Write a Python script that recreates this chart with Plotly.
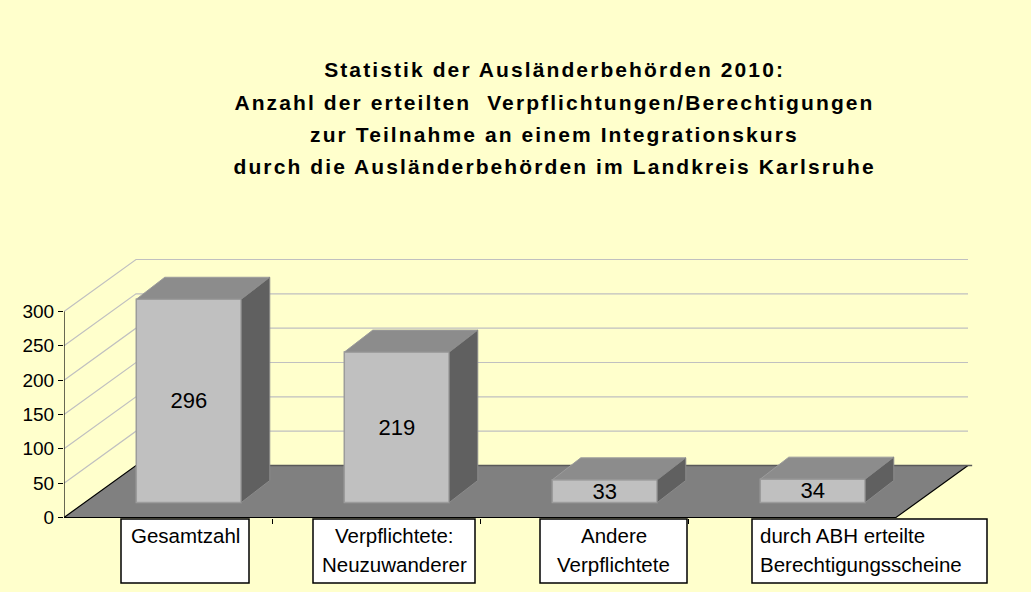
import plotly.graph_objects as go

# ---------------- data ----------------
categories = ["Gesamtzahl", "Verpflichtete: Neuzuwanderer", "Andere Verpflichtete",
              "durch ABH erteilte Berechtigungsscheine"]
category_label_lines = [["Gesamtzahl"], ["Verpflichtete:", "Neuzuwanderer"],
                        ["Andere", "Verpflichtete"], ["durch ABH erteilte", "Berechtigungsscheine"]]
values = [296, 219, 33, 34]
y_tick_values = [0, 50, 100, 150, 200, 250, 300]
title_lines = ["Statistik der Ausländerbehörden 2010:",
               "Anzahl der erteilten\u00a0 Verpflichtungen/Berechtigungen",
               "zur Teilnahme an einem Integrationskurs",
               "durch die Ausländerbehörden im Landkreis Karlsruhe"]

# ---------------- geometry / style ----------------
W, H = 1031, 592
ML = 64                      # left margin (front value axis position)
CAT_PX = 208.0               # pixels per category
UNIT_PX = 206.0 / 300        # pixels per value unit
FLOOR_PY = 517.5             # pixel row of value 0 on the front plane
n = len(values)


def px_to_x(px):
    return -0.5 + (px - ML) / CAT_PX


def py_to_paper(py):
    return 1 - py / H


x_range = [-0.5, px_to_x(W)]
y_range = [-(H - FLOOR_PY) / UNIT_PX, FLOOR_PY / UNIT_PX]

DEPTH_X = 72 / CAT_PX        # oblique depth of the floor / walls
DEPTH_Y = 52 / UNIT_PX
FRONT_F = 15 / 52            # bars sit this far into the depth
BAR_W = 105 / CAT_PX
BAR_DX = 28.5 / CAT_PX       # bar depth
BAR_DY = 22 / UNIT_PX
x_left, x_right = -0.5, n - 0.5

FONT = "Liberation Sans, Arial, sans-serif"
BG = "#FFFFCC"

fig = go.Figure()

# gridlines: left wall diagonals + back wall horizontals
gx, gy = [], []
for v in y_tick_values[1:]:
    gx += [x_left, x_left + DEPTH_X, x_right + DEPTH_X, None]
    gy += [v, v + DEPTH_Y, v + DEPTH_Y, None]
fig.add_trace(go.Scatter(x=gx, y=gy, mode="lines", line=dict(color="#C0C0C0", width=1.2),
                         hoverinfo="skip", showlegend=False, zorder=0, cliponaxis=False))

# floor
fig.add_trace(go.Scatter(
    x=[x_left, x_right, x_right + DEPTH_X, x_left + DEPTH_X, x_left],
    y=[0, 0, DEPTH_Y, DEPTH_Y, 0],
    mode="lines", fill="toself", fillcolor="#808080",
    line=dict(color="#000000", width=1.2), hoverinfo="skip", showlegend=False,
    zorder=1, cliponaxis=False))
fig.add_trace(go.Scatter(
    x=[x_left + DEPTH_X, x_right + DEPTH_X + 0.02], y=[DEPTH_Y, DEPTH_Y],
    mode="lines", line=dict(color="#5A5A5A", width=1.5), hoverinfo="skip",
    showlegend=False, zorder=1, cliponaxis=False))

# bars: front faces
bar_base = FRONT_F * DEPTH_Y
bar_x = [i + FRONT_F * DEPTH_X for i in range(n)]
fig.add_trace(go.Bar(
    x=bar_x, y=values, base=[bar_base] * n, width=BAR_W,
    marker=dict(color="#C0C0C0", line=dict(color="#9C9C9C", width=1.5)),
    text=[str(v) for v in values], textposition="inside", insidetextanchor="middle",
    textangle=0, constraintext="none",
    textfont=dict(family=FONT, size=22, color="#000000"),
    hoverinfo="skip", showlegend=False, zorder=2))

# bars: top and side faces
tx, ty, sx, sy = [], [], [], []
for xc, v in zip(bar_x, values):
    x0, x1 = xc - BAR_W / 2, xc + BAR_W / 2
    top = bar_base + v
    tx += [x0, x1, x1 + BAR_DX, x0 + BAR_DX, x0, None]
    ty += [top, top, top + BAR_DY, top + BAR_DY, top, None]
    sx += [x1, x1 + BAR_DX, x1 + BAR_DX, x1, x1, None]
    sy += [bar_base, bar_base + BAR_DY, top + BAR_DY, top, bar_base, None]
fig.add_trace(go.Scatter(x=tx, y=ty, mode="lines", fill="toself", fillcolor="#8C8C8C",
                         line=dict(color="#9C9C9C", width=1), hoverinfo="skip",
                         showlegend=False, zorder=3))
fig.add_trace(go.Scatter(x=sx, y=sy, mode="lines", fill="toself", fillcolor="#606060",
                         line=dict(color="#8A8A8A", width=1), hoverinfo="skip",
                         showlegend=False, zorder=3))

# front value axis line
fig.add_trace(go.Scatter(x=[x_left, x_left], y=[y_tick_values[0], y_tick_values[-1]],
                         mode="lines", line=dict(color="#000000", width=1.2),
                         hoverinfo="skip", showlegend=False, zorder=4, cliponaxis=False))

# category label boxes
BOX_PX = [(121, 249), (313, 475), (540, 687), (752, 987)]
BOX_TOP, BOX_BOTTOM = 519, 583
LINE_PY = [535, 564]
shapes = []
annotations = []

# title lines (first four annotations)
TITLE_CX = 554
TITLE_PY = [70, 102.5, 134.5, 166.5]
for line, py in zip(title_lines, TITLE_PY):
    annotations.append(dict(
        x=(TITLE_CX - ML) / (W - ML), y=py_to_paper(py), xref="paper", yref="paper",
        xanchor="center", yanchor="middle", showarrow=False, text="<b>%s</b>" % line,
        font=dict(family=FONT, size=21, color="#000000")))

for i, ((bx0, bx1), lines) in enumerate(zip(BOX_PX, category_label_lines)):
    shapes.append(dict(type="rect", xref="x", yref="paper",
                       x0=px_to_x(bx0), x1=px_to_x(bx1),
                       y0=py_to_paper(BOX_BOTTOM), y1=py_to_paper(BOX_TOP),
                       fillcolor="#FFFFFF", line=dict(color="#000000", width=1.5),
                       layer="above"))
    left_aligned = (i == n - 1)
    for line, py in zip(lines, LINE_PY):
        annotations.append(dict(
            x=px_to_x(bx0 + 6) if left_aligned else px_to_x((bx0 + bx1) / 2),
            y=py_to_paper(py), xref="x", yref="paper",
            xanchor="left" if left_aligned else "center", yanchor="middle",
            showarrow=False, text=line,
            font=dict(family=FONT, size=20.5, color="#000000")))

fig.update_layout(
    width=W, height=H, autosize=False,
    margin=dict(l=ML, r=0, t=0, b=0, pad=0),
    paper_bgcolor=BG, plot_bgcolor=BG,
    shapes=shapes, annotations=annotations,
    showlegend=False,
    xaxis=dict(range=x_range, anchor="free", position=py_to_paper(FLOOR_PY),
               tickmode="array", tickvals=[0.5, 1.5, 2.5, 3.5], ticks="outside",
               ticklen=5, tickwidth=1, tickcolor="#000000", showticklabels=False,
               showgrid=False, zeroline=False, showline=False, fixedrange=True),
    yaxis=dict(range=y_range, domain=[0, 1], tickmode="array", tickvals=y_tick_values,
               ticks="outside", ticklen=5, tickwidth=1, tickcolor="#000000",
               tickfont=dict(family=FONT, size=19, color="#000000"),
               showgrid=False, zeroline=False, showline=False, fixedrange=True),
)

post = """
document.body.style.margin = '0';
document.body.style.padding = '0';
document.body.style.background = '#FFFFCC';
var gd = document.getElementById('{plot_id}');
function sp(){
  gd.querySelectorAll('g.annotation').forEach(function(g){
    var i = +g.getAttribute('data-index');
    if (i < 4) {
      var t = g.querySelector('text.annotation-text');
      if (t) { t.setAttribute('letter-spacing', '2.1px'); }
    }
  });
}
sp();
if (gd.on) { gd.on('plotly_afterplot', sp); }
setTimeout(sp, 50);
"""

fig.write_html("out.html", post_script=post, config={"staticPlot": True})
